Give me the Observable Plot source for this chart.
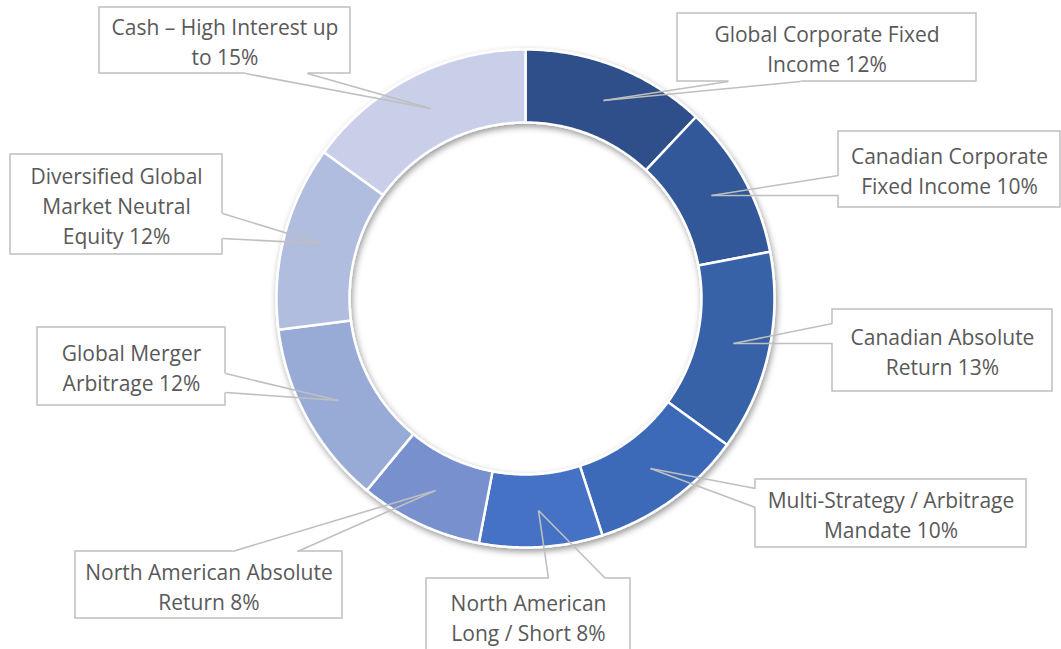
<!DOCTYPE html>
<html>
<head>
<meta charset="utf-8">
<script src="https://cdn.jsdelivr.net/npm/d3@7"></script>
<script src="https://cdn.jsdelivr.net/npm/@observablehq/plot@0.6"></script>
<style>
  html, body { margin: 0; padding: 0; background: #ffffff; }
  #chart { width: 1061px; height: 649px; overflow: hidden; }
</style>
</head>
<body>
<div id="chart"></div>
<script>
// ---- Data ----
const categories = [
  "Global Corporate Fixed Income",
  "Canadian Corporate Fixed Income",
  "Canadian Absolute Return",
  "Multi-Strategy / Arbitrage Mandate",
  "North American Long / Short",
  "North American Absolute Return",
  "Global Merger Arbitrage",
  "Diversified Global Market Neutral Equity",
  "Cash – High Interest up to"
];
const values = [12, 10, 13, 10, 8, 8, 12, 12, 15];

// ---- Styles ----
const palette = ["#2E5089", "#325899", "#3962A8", "#3E6AB8", "#4472C4", "#7890CD", "#98AAD6", "#B1BDDF", "#C9CFE8"];

// ---- Layout (pixel space) ----
const ring = { cx: 525, cy: 298, r0: 176, r1: 249 };
const calloutLayout = [
  { box: [677, 13, 976, 81],   base: [[728, 81], [800, 81]],   tip: [603, 100], breaks: [3] },
  { box: [838, 131, 1060, 207], base: [[838, 175], [838, 195]], tip: [711, 195], breaks: [2] },
  { box: [832, 309, 1052, 391], base: [[832, 323], [832, 343]], tip: [733, 343], breaks: [2] },
  { box: [755, 479, 1026, 547], base: [[755, 488], [755, 507]], tip: [650, 468], breaks: [3] },
  { box: [426, 578, 630, 654], base: [[548, 578], [605, 578]], tip: [538, 510], breaks: [2] },
  { box: [75, 551, 342, 618],  base: [[232, 551], [297, 551]], tip: [435, 490], breaks: [3] },
  { box: [37, 327, 225, 405],  base: [[225, 373], [225, 392]], tip: [338, 400], breaks: [2] },
  { box: [10, 154, 222, 254],  base: [[222, 213], [222, 238]], tip: [320, 243], breaks: [2, 4] },
  { box: [99, 7, 350, 73],     base: [[245, 73], [307, 73]],   tip: [430, 108], breaks: [5] }
];

// ---- Build slice polygons from the values ----
const arcs = d3.pie().sort(null).value(d => d)(values);
const slicePts = [];
arcs.forEach((a, i) => {
  const name = categories[i];
  const n = Math.max(2, Math.ceil((a.endAngle - a.startAngle) / (Math.PI / 360)));
  const pts = [];
  for (let k = 0; k <= n; k++) {
    const t = a.startAngle + (a.endAngle - a.startAngle) * k / n;
    pts.push({ name, x: ring.cx + ring.r1 * Math.sin(t), y: ring.cy - ring.r1 * Math.cos(t) });
  }
  for (let k = n; k >= 0; k--) {
    const t = a.startAngle + (a.endAngle - a.startAngle) * k / n;
    pts.push({ name, x: ring.cx + ring.r0 * Math.sin(t), y: ring.cy - ring.r0 * Math.cos(t) });
  }
  pts.push({ ...pts[0] });
  slicePts.push(...pts);
});

// ---- Callouts ----
function wrap(text, breaks) {
  const words = text.split(" ");
  const lines = [];
  let start = 0;
  for (const b of breaks.concat([words.length])) {
    lines.push(words.slice(start, b).join(" "));
    start = b;
  }
  return lines.join("\n");
}
const callouts = categories.map((c, i) => {
  const L = calloutLayout[i];
  return {
    name: c,
    label: wrap(`${c} ${values[i]}%`, L.breaks),
    x1: L.box[0], y1: L.box[1], x2: L.box[2], y2: L.box[3],
    cx: (L.box[0] + L.box[2]) / 2, cy: (L.box[1] + L.box[3]) / 2,
    b1: L.base[0], b2: L.base[1], tip: L.tip
  };
});
const legs = callouts.flatMap(d => [
  { x1: d.b1[0], y1: d.b1[1], x2: d.tip[0], y2: d.tip[1] },
  { x1: d.b2[0], y1: d.b2[1], x2: d.tip[0], y2: d.tip[1] }
]);

const plot = Plot.plot({
  width: 1061,
  height: 649,
  margin: 0,
  x: { domain: [0, 1061], range: [0, 1061], axis: null },
  y: { domain: [0, 649], range: [0, 649], axis: null },
  color: { domain: categories, range: palette },
  style: { fontFamily: "'Open Sans', Lato, sans-serif", background: "#ffffff" },
  marks: [
    Plot.line(slicePts, { x: "x", y: "y", z: "name", fill: "name", stroke: "#ffffff", strokeWidth: 2.5, strokeLinejoin: "round" }),
    Plot.rect(callouts, { x1: "x1", x2: "x2", y1: "y1", y2: "y2", fill: "#ffffff", stroke: "#BFBFBF", strokeWidth: 1.5 }),
    Plot.link(callouts, { x1: d => d.b1[0], y1: d => d.b1[1], x2: d => d.b2[0], y2: d => d.b2[1], stroke: "#ffffff", strokeWidth: 3 }),
    Plot.link(legs, { x1: "x1", y1: "y1", x2: "x2", y2: "y2", stroke: "#BFBFBF", strokeWidth: 1.6 }),
    Plot.text(callouts, { x: "cx", y: "cy", text: "label", fontSize: 21, fill: "#595959", lineHeight: 30 / 21 })
  ]
});

// soft drop shadow under the ring
const ns = "http://www.w3.org/2000/svg";
const defs = document.createElementNS(ns, "defs");
defs.innerHTML = '<filter id="ds" x="-20%" y="-20%" width="140%" height="140%"><feDropShadow dx="1.5" dy="3" stdDeviation="3" flood-color="#000" flood-opacity="0.4"/></filter>';
plot.insertBefore(defs, plot.firstChild);
const ringG = plot.querySelector('g[aria-label="line"]');
if (ringG) ringG.setAttribute("filter", "url(#ds)");

document.getElementById("chart").appendChild(plot);
</script>
</body>
</html>
